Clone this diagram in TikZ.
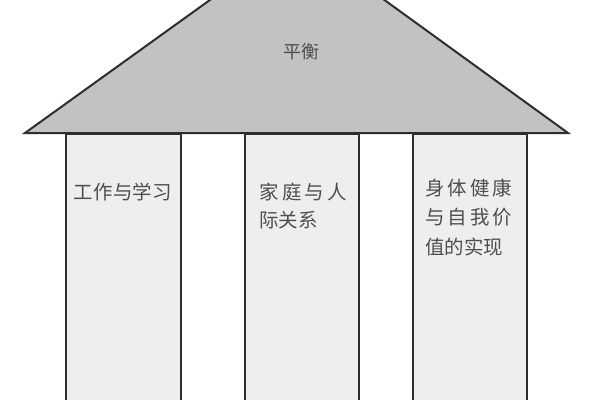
\documentclass[tikz,border=0pt]{standalone}
\usepackage{fontspec}
\newfontfamily\cjk{Noto Sans CJK SC}
\definecolor{roofgray}{HTML}{C0C2C4}
\definecolor{pillarfill}{HTML}{EEEEF1}
\definecolor{edge}{HTML}{2E2E2E}
\definecolor{txt}{HTML}{4E4E4E}
\newcommand{\spreadline}[2]{\makebox[#1][s]{#2}}
\begin{document}
\begin{tikzpicture}[x=0.75pt,y=-0.75pt,
  roofstyle/.style={fill=roofgray,draw=edge,line width=1.5pt,line join=miter},
  pillar/.style={rectangle,fill=pillarfill,draw=edge,line width=1.5pt,anchor=north west,minimum height=400,inner sep=0pt},
  label/.style={font=\cjk\fontsize{14.6}{20}\selectfont,text=txt,inner sep=0pt,anchor=west},
  rooflabel/.style={font=\cjk\fontsize{13.5}{16}\selectfont,text=txt,inner sep=0pt}]
\useasboundingbox (0,0) rectangle (600,400);
\fill[white] (0,0) rectangle (600,400);
\clip (0,0) rectangle (600,400);
% pillars
\node[pillar,minimum width=115*0.75pt] (p1) at (65,133) {};
\node[pillar,minimum width=114*0.75pt] (p2) at (244,133) {};
\node[pillar,minimum width=114*0.75pt] (p3) at (412,133) {};
% roof
\draw[roofstyle] (25,133) -- (297.5,-63) -- (568,133) -- cycle;
\node[rooflabel] (balance) at (301,52) {平衡};
% pillar texts
\node[label] (t1) at (73,192) {\spreadline{99\dimexpr0.75pt\relax}{工\hfill 作\hfill 与\hfill 学\hfill 习}};
\node[label] (t2a) at (259,192) {\spreadline{88\dimexpr0.75pt\relax}{家\hfill 庭\hfill 与\hfill 人}};
\node[label] (t2b) at (259,220) {际关系};
\node[label] (t3a) at (425,188) {\spreadline{87\dimexpr0.75pt\relax}{身\hfill 体\hfill 健\hfill 康}};
\node[label] (t3b) at (425,217) {\spreadline{87\dimexpr0.75pt\relax}{与\hfill 自\hfill 我\hfill 价}};
\node[label] (t3c) at (425,247) {值的实现};
\end{tikzpicture}
\end{document}
